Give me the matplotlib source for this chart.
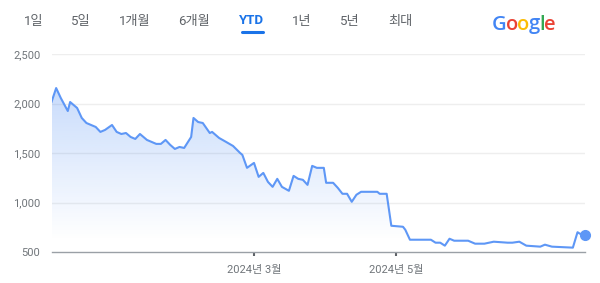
import matplotlib
matplotlib.use("Agg")
import matplotlib.pyplot as plt
import matplotlib.dates as mdates
import numpy as np
import pandas as pd

plt.rcParams['font.family'] = ['Roboto', 'Noto Sans CJK KR', 'DejaVu Sans']

# price series
dates = ["2023-12-05", "2023-12-07", "2023-12-09", "2023-12-12", "2023-12-13",
         "2023-12-16", "2023-12-18", "2023-12-20", "2023-12-24", "2023-12-26",
         "2023-12-28", "2023-12-31", "2024-01-02", "2024-01-04", "2024-01-06",
         "2024-01-08", "2024-01-10", "2024-01-12", "2024-01-15", "2024-01-17",
         "2024-01-19", "2024-01-21", "2024-01-23", "2024-01-25", "2024-01-27",
         "2024-01-29", "2024-01-31", "2024-02-03", "2024-02-04", "2024-02-06",
         "2024-02-08", "2024-02-11", "2024-02-12", "2024-02-15", "2024-02-18",
         "2024-02-21", "2024-02-24", "2024-02-25", "2024-02-27", "2024-03-01",
         "2024-03-03", "2024-03-05", "2024-03-07", "2024-03-09", "2024-03-11",
         "2024-03-13", "2024-03-16", "2024-03-18", "2024-03-20", "2024-03-22",
         "2024-03-24", "2024-03-26", "2024-03-28", "2024-03-31", "2024-04-01",
         "2024-04-04", "2024-04-06", "2024-04-08", "2024-04-10", "2024-04-12",
         "2024-04-14", "2024-04-16", "2024-04-19", "2024-04-23", "2024-04-24",
         "2024-04-27", "2024-04-29", "2024-05-04", "2024-05-05", "2024-05-07",
         "2024-05-16", "2024-05-18", "2024-05-20", "2024-05-22", "2024-05-24",
         "2024-05-26", "2024-06-01", "2024-06-04", "2024-06-08", "2024-06-12",
         "2024-06-15", "2024-06-18", "2024-06-20", "2024-06-23", "2024-06-26",
         "2024-07-02", "2024-07-04", "2024-07-07", "2024-07-16", "2024-07-18",
         "2024-07-19", "2024-07-21"]
prices = [2015, 2156, 2055, 1924, 2015, 1955, 1854, 1803, 1763, 1713,
          1733, 1783, 1713, 1692, 1702, 1662, 1642, 1692, 1632, 1612,
          1592, 1592, 1632, 1582, 1541, 1561, 1551, 1662, 1854, 1813,
          1803, 1702, 1713, 1652, 1612, 1571, 1501, 1481, 1350, 1400,
          1259, 1299, 1208, 1158, 1239, 1158, 1118, 1269, 1239, 1229,
          1178, 1370, 1350, 1350, 1199, 1199, 1148, 1088, 1088, 1007,
          1078, 1108, 1108, 1108, 1088, 1088, 765, 755, 725, 624,
          624, 594, 594, 564, 634, 614, 614, 584, 584, 604,
          599, 594, 594, 604, 564, 554, 574, 554, 544, 700,
          685, 668]

yticks = [500, 1000, 1500, 2000, 2500]
xtick_dates = ["2024-03-01", "2024-05-01"]
xtick_labels = ["2024년 3월", "2024년 5월"]
ranges = ["1일", "5일", "1개월", "6개월", "YTD", "1년", "5년", "최대"]
range_x = [34, 81, 135, 194, 252, 302, 350, 400]

x = mdates.date2num(pd.to_datetime(dates))
y = np.array(prices)

W, H = 600, 283
fig = plt.figure(figsize=(6, 2.83), dpi=100)
ax = fig.add_axes([51.5 / W, 31 / H, 533 / W, 198 / H])

line_c = '#5e97f6'
ax.set_xlim(x[0], x[-1])
ax.set_ylim(500, 2500)

# gradient under the line
poly = ax.fill_between(x, y, 500, color='none', lw=0)
grad = np.zeros((256, 1, 4))
grad[:, 0, 0] = 66 / 255
grad[:, 0, 1] = 133 / 255
grad[:, 0, 2] = 244 / 255
vals = np.linspace(2200, 500, 256)
grad[:, 0, 3] = np.clip((vals - 620) / (2200 - 620), 0, 1) * 0.30
img = ax.imshow(grad, extent=[x[0], x[-1], 500, 2200], aspect='auto',
                origin='upper', zorder=1)
img.set_clip_path(poly.get_paths()[0], transform=ax.transData)

ax.plot(x, y, color=line_c, lw=1.5, zorder=3, solid_joinstyle='round')
ax.plot([x[-1]], [y[-1]], 'o', color=line_c, ms=7, zorder=4, clip_on=False)

for v in yticks[1:]:
    ax.axhline(v, color='#eeeeee', lw=1, zorder=0)
for s in ['top', 'right', 'left']:
    ax.spines[s].set_visible(False)
ax.spines['bottom'].set_color('#9aa0a6')
ax.spines['bottom'].set_linewidth(1)

ax.set_yticks(yticks)
ax.set_yticklabels([f"{v:,}" for v in yticks])
ax.tick_params(axis='y', length=0, pad=8, labelsize=8, labelcolor='#70757a')
ax.set_xticks(mdates.date2num(pd.to_datetime(xtick_dates)))
ax.set_xticklabels(xtick_labels)
ax.tick_params(axis='x', length=3, width=1.5, color='#5f6368', pad=6,
               labelsize=8, labelcolor='#70757a')

# range selector
for lab, px in zip(ranges, range_x):
    sel = lab == "YTD"
    fig.text(px / W, 1 - 21 / H, lab, ha='center', va='center', fontsize=9.5,
             color='#1a73e8' if sel else '#5f6368',
             fontweight='bold' if sel else 'normal')
fig.add_artist(plt.Line2D([242 / W, 263 / W], [1 - 31.5 / H, 1 - 31.5 / H],
                          color='#1a73e8', lw=2.2, solid_capstyle='round'))

# google logo
letters = ["G", "o", "o", "g", "l", "e"]
colors = ['#4285f4', '#ea4335', '#fbbc05', '#4285f4', '#34a853', '#ea4335']
fig.canvas.draw()
r = fig.canvas.get_renderer()
cx = 492
for ch, c in zip(letters, colors):
    t = fig.text(cx / W, 1 - 29.5 / H, ch, ha='left', va='baseline',
                 fontsize=14.5, color=c, fontweight='semibold',
                 family=['Open Sans', 'DejaVu Sans'])
    cx += t.get_window_extent(renderer=r).width - 0.8

fig.savefig('out.png', dpi=100, facecolor='white')
